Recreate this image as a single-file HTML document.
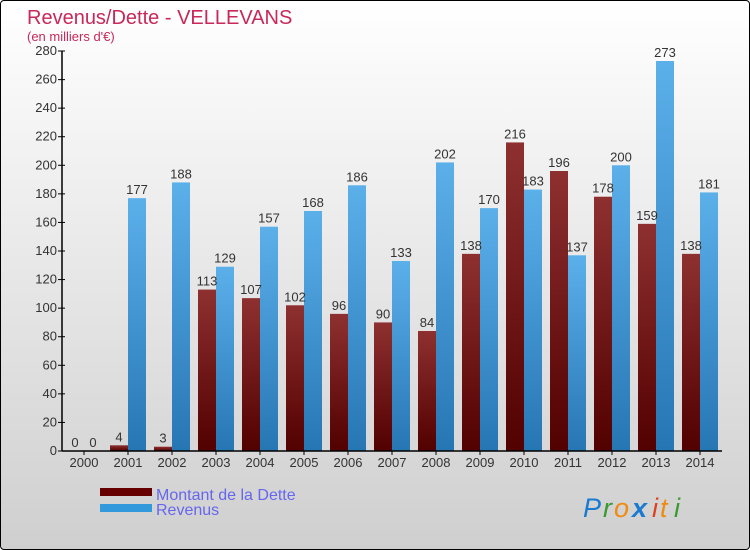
<!DOCTYPE html>
<html><head><meta charset="utf-8"><style>
body{margin:0}
#c{width:748px;height:548px;border:1px solid #000;border-radius:4px;background:linear-gradient(#fff,#cfcfcf);position:relative;overflow:hidden;font-family:"Liberation Sans",sans-serif}
</style></head><body>
<div id="c">
<svg width="748" height="548" id="s">
<defs>
<linearGradient id="gd" x1="0" y1="0" x2="0" y2="1"><stop offset="0" stop-color="#8e3030"/><stop offset="1" stop-color="#520000"/></linearGradient>
<linearGradient id="gr" x1="0" y1="0" x2="0" y2="1"><stop offset="0" stop-color="#5cb0ea"/><stop offset="1" stop-color="#2676b4"/></linearGradient>
</defs>
<text x="26" y="23" font-size="20" fill="#c8285a">Revenus/Dette - VELLEVANS</text>
<text x="26" y="40" font-size="13" fill="#c8285a">(en milliers d'€)</text>
<g id="g"></g>
<rect x="99" y="487" width="52" height="8" fill="#660000"/>
<rect x="99" y="503" width="52" height="8" fill="#3399dd"/>
<text x="155" y="499" font-size="16" fill="#6666ee">Montant de la Dette</text>
<text x="155" y="514" font-size="16" fill="#6666ee">Revenus</text>
<g font-size="27" font-family="'Liberation Sans',sans-serif" font-style="italic">
<text x="582" y="516" fill="#1a7ad0">P</text><text x="602" y="516" fill="#3a9a30">r</text><text x="613" y="516" fill="#f08a10">o</text><text x="631" y="516" fill="#1a7ad0" font-weight="bold">x</text><text x="651" y="516" fill="#e04020">i</text><text x="659" y="516" fill="#f08a10">t</text><text x="673" y="516" fill="#3a9a30">i</text>
</g>
</svg>
</div>
<script>
const years=["2000","2001","2002","2003","2004","2005","2006","2007","2008","2009","2010","2011","2012","2013","2014"];
const dette=[0,4,3,113,107,102,96,90,84,138,216,196,178,159,138];
const revenus=[0,177,188,129,157,168,186,133,202,170,183,137,200,273,181];
const yTicks=[0,20,40,60,80,100,120,140,160,180,200,220,240,260,280];
const NS="http://www.w3.org/2000/svg";
const g=document.getElementById('g');
const X0=61,Y0=450,GW=44;
function y(v){return Y0-v*400/280;}
function cx(i){return X0+22+GW*i;}
function mk(t,a,txt){const e=document.createElementNS(NS,t);for(const k in a)e.setAttribute(k,a[k]);if(txt!==undefined)e.textContent=txt;g.appendChild(e);return e;}
yTicks.forEach(v=>{
 const l=mk('line',{x1:X0-4,x2:X0+3,y1:y(v),y2:y(v),stroke:'#000'});
 
 
 const t=mk('text',{x:X0-5,y:y(v)+4,'font-size':13,fill:'#333','text-anchor':'end'},v);
 
 
});
years.forEach((yr,i)=>{
 const c=cx(i);
 const b1=mk('rect',{x:c-18,y:y(dette[i]),width:18,height:Y0-y(dette[i]),fill:'url(#gd)'});
 
 
 const b2=mk('rect',{x:c,y:y(revenus[i]),width:18,height:Y0-y(revenus[i]),fill:'url(#gr)'});
 
 
 const t1=mk('text',{x:c-9,y:y(dette[i])-4,'font-size':13,fill:'#333','text-anchor':'middle'},dette[i]);
 
 
 const t2=mk('text',{x:c+9,y:y(revenus[i])-4,'font-size':13,fill:'#333','text-anchor':'middle'},revenus[i]);
 
 
 const tk=mk('line',{x1:c,x2:c,y1:Y0,y2:Y0+4,stroke:'#000'});
 
 
 const xl=mk('text',{x:c,y:Y0+16,'font-size':13,fill:'#333','text-anchor':'middle'},yr);
 
 
});
const ax=mk('line',{x1:X0,x2:X0,y1:y(280),y2:Y0,stroke:'#000','stroke-width':1.5});


const axx=mk('line',{x1:X0,x2:X0+GW*15,y1:Y0,y2:Y0,stroke:'#000','stroke-width':1.5});


</script>
</body></html>
